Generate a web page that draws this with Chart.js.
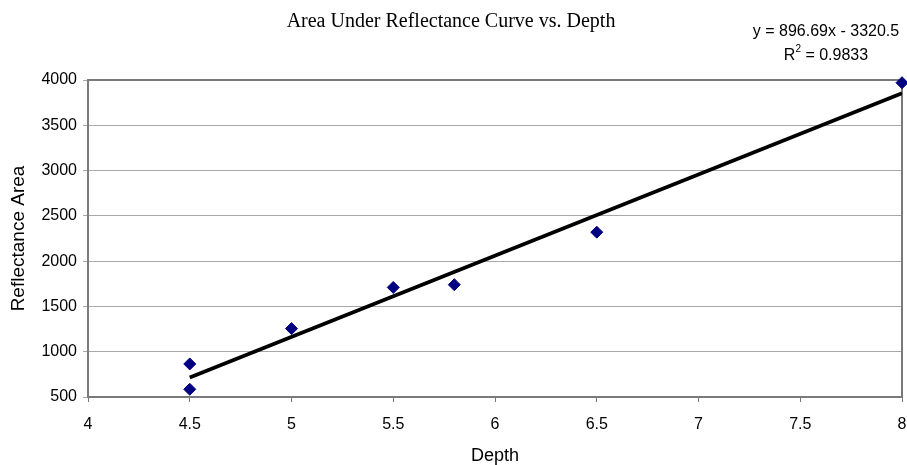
<!DOCTYPE html>
<html>
<head>
<meta charset="utf-8">
<script src="https://cdn.jsdelivr.net/npm/chart.js@4/dist/chart.umd.min.js"></script>
<style>
html,body{margin:0;padding:0;background:#fff;}
#c{display:block;}
</style>
</head>
<body>
<canvas id="c" width="907" height="465"></canvas>
<script>
// Data
const depth = [4.5, 4.5, 5.0, 5.5, 5.8, 6.5, 8.0];
const reflectanceArea = [865, 585, 1255, 1710, 1740, 2320, 3970];
// Trendline as stated on the chart
const trendSlope = 896.69;
const trendIntercept = -3320.5;
const trendRange = [4.5, 8.0];
const equationLine1 = "y = 896.69x - 3320.5";
const equationLine2 = ["R", "2", " = 0.9833"];
const xTicksRange = {min: 4, max: 8, step: 0.5};
const yTicksRange = {min: 500, max: 4000, step: 500};

const scatterPts = depth.map((d, i) => ({x: d, y: reflectanceArea[i]}));
const trendPts = trendRange.map(x => ({x: x, y: trendSlope * x + trendIntercept}));

const SANS = 'Arial, "Liberation Sans", Helvetica, sans-serif';

const framePlugin = {
  id: 'frame',
  beforeDatasetsDraw(chart) {
    const a = chart.chartArea, ctx = chart.ctx;
    ctx.save();
    ctx.strokeStyle = '#7a7a7a';
    ctx.lineWidth = 2;
    ctx.strokeRect(a.left, a.top, a.right - a.left, a.bottom - a.top);
    ctx.restore();
  },
  afterDraw(chart) {
    const ctx = chart.ctx;
    ctx.save();
    ctx.fillStyle = '#000';
    ctx.font = '16px ' + SANS;
    ctx.textBaseline = 'middle';
    ctx.textAlign = 'center';
    const cx = 826;
    ctx.fillText(equationLine1, cx, 32);
    ctx.textAlign = 'left';
    const big = '16px ' + SANS, small = '10px ' + SANS;
    ctx.font = big; const w0 = ctx.measureText(equationLine2[0]).width;
    ctx.font = small; const w1 = ctx.measureText(equationLine2[1]).width;
    ctx.font = big; const w2 = ctx.measureText(equationLine2[2]).width;
    let x = cx - (w0 + w1 + w2) / 2;
    ctx.font = big; ctx.fillText(equationLine2[0], x, 56); x += w0;
    ctx.font = small; ctx.fillText(equationLine2[1], x, 49); x += w1;
    ctx.font = big; ctx.fillText(equationLine2[2], x, 56);
    ctx.restore();
  }
};

new Chart(document.getElementById('c'), {
  type: 'scatter',
  data: {
    datasets: [
      {
        type: 'line',
        label: 'Linear (trend)',
        data: trendPts,
        borderColor: '#000',
        borderWidth: 3.8,
        pointRadius: 0,
        fill: false,
        order: 2
      },
      {
        label: 'Reflectance Area',
        data: scatterPts,
        backgroundColor: '#000080',
        borderColor: '#000080',
        pointStyle: 'rectRot',
        pointRadius: 6,
        pointHoverRadius: 6,
        clip: false,
        order: 1
      }
    ]
  },
  plugins: [framePlugin],
  options: {
    responsive: false,
    animation: false,
    events: [],
    layout: {autoPadding: false, padding: {left: 0, right: 5, top: 0, bottom: 0}},
    plugins: {
      legend: {display: false},
      tooltip: {enabled: false},
      title: {
        display: true,
        text: 'Area Under Reflectance Curve vs. Depth',
        color: '#000',
        font: {family: '"Times New Roman", "Liberation Serif", serif', size: 20, weight: 'normal'},
        padding: {top: 10, bottom: 46}
      }
    },
    scales: {
      x: {
        type: 'linear',
        min: xTicksRange.min,
        max: xTicksRange.max,
        afterFit(s) { s.height = 68; s.paddingLeft = 0; s.paddingRight = 0; },
        ticks: {
          stepSize: xTicksRange.step,
          color: '#000',
          padding: 13,
          font: {family: SANS, size: 16},
          callback: v => String(v)
        },
        grid: {drawOnChartArea: false, drawTicks: true, tickLength: 5, color: '#7a7a7a', lineWidth: 1},
        border: {display: false},
        title: {
          display: true,
          text: 'Depth',
          color: '#000',
          font: {family: SANS, size: 18},
          padding: {top: 2, bottom: -2}
        }
      },
      y: {
        type: 'linear',
        min: yTicksRange.min,
        max: yTicksRange.max,
        afterFit(s) { s.width = 88; s.paddingTop = 0; s.paddingBottom = 0; },
        ticks: {
          stepSize: yTicksRange.step,
          color: '#000',
          padding: 6,
          font: {family: SANS, size: 16},
          callback: v => String(v)
        },
        grid: {drawTicks: true, tickLength: 5, color: '#a8a8a8', lineWidth: 1},
        border: {display: false},
        title: {
          display: true,
          text: 'Reflectance Area',
          color: '#000',
          font: {family: SANS, size: 19},
          padding: {top: 7, bottom: 0}
        }
      }
    }
  }
});
</script>
</body>
</html>
